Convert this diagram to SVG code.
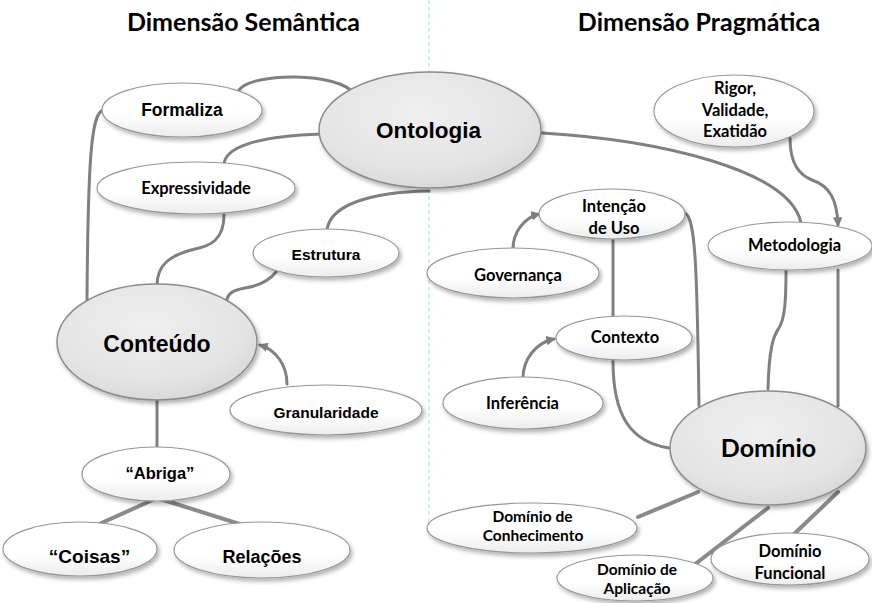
<svg xmlns="http://www.w3.org/2000/svg" width="872" height="603" viewBox="0 0 872 603">
<defs>
<linearGradient id="gSmall" x1="0" y1="0" x2="0" y2="1">
<stop offset="0" stop-color="#ffffff"/>
<stop offset="0.6" stop-color="#ffffff"/>
<stop offset="1" stop-color="#ececec"/>
</linearGradient>
<radialGradient id="gBig" cx="0.45" cy="0.35" r="0.7">
<stop offset="0" stop-color="#efefef"/>
<stop offset="0.7" stop-color="#e4e4e4"/>
<stop offset="1" stop-color="#d6d6d6"/>
</radialGradient>
<filter id="shadow" x="-10%" y="-10%" width="125%" height="135%">
<feDropShadow dx="2" dy="3" stdDeviation="2" flood-color="#000" flood-opacity="0.3"/>
</filter>
<marker id="arrow" viewBox="0 0 10 10" refX="8" refY="5" markerWidth="3.2" markerHeight="3.2" orient="auto">
<path d="M0,0 L10,5 L0,10 Z" fill="#7f7f7f"/>
</marker>
</defs>
<style>
.title{font-family:"Lato","Liberation Sans",sans-serif;font-weight:bold;font-size:25px;fill:#000;text-anchor:middle}
.small{fill:url(#gSmall);stroke:#979797;stroke-width:1.2;filter:url(#shadow)}
.big{fill:url(#gBig);stroke:#8c8c8c;stroke-width:1.5;filter:url(#shadow)}
.a{font-family:"Liberation Sans",Arial,sans-serif;font-weight:bold;fill:#000;text-anchor:middle}
.c{font-family:"Lato","Liberation Sans",sans-serif;font-weight:bold;fill:#000;text-anchor:middle;font-size:16.5px}
.c2{font-family:"Lato","Liberation Sans",sans-serif;font-weight:bold;fill:#000;text-anchor:middle;font-size:15.5px}
.cbig{font-family:"Lato","Liberation Sans",sans-serif;font-weight:bold;fill:#000;text-anchor:middle;font-size:25px}
.conn path{fill:none;stroke:#808080;stroke-width:3;stroke-linecap:round}
.conn path.thick{stroke:#8a8a8a;stroke-width:4}
.arr{marker-end:url(#arrow)}
.divider{stroke:#a9dbe6;stroke-width:1;stroke-dasharray:4,3}
</style>
<rect width="872" height="603" fill="#ffffff"/>
<line class="divider" x1="429" y1="0" x2="429" y2="535"/>
<text class="title" x="243.5" y="31">Dimensão Semântica</text>
<text class="title" x="699" y="31">Dimensão Pragmática</text>

<g id="connectors" class="conn">
<path d="M239,90 C252,72 340,72 354,94"/>
<path d="M103,110 C92,114 88,150 87,300"/>
<path d="M322,134 C255,136 224,148 224,165"/>
<path d="M224,215 C224,240 210,246 195,249 C170,255 157,265 157,285"/>
<path d="M429,191 C370,192 330,205 327,230"/>
<path d="M276,272 C268,282 258,286 245,288 C235,290 229,292 227,299"/>
<path class="arr" d="M287,384 C287,365 276,350 260,345"/>
<path d="M157,400 L157,447"/>
<path class="thick" d="M157,498 L86,530"/>
<path class="thick" d="M157,498 L259,530"/>
<path d="M542,133 C660,140 790,170 801,223"/>
<path class="arr" d="M790,138 C790,165 800,175 812,180 C830,186 837,200 838,225"/>
<path class="arr" d="M513,249 C513,232 524,218 539,214"/>
<path d="M613,239 L613,317"/>
<path d="M685,213 C695,218 697,260 699,406"/>
<path d="M786,271 C786,300 785,318 779,328 C773,336 769,350 768,389"/>
<path d="M838,270 L838,406"/>
<path class="arr" d="M523,378 C523,360 535,343 554,339"/>
<path d="M613,361 C613,415 630,442 669,448"/>
<path class="thick" d="M698,492 L638,517"/>
<path class="thick" d="M768,508 L694,565"/>
<path class="thick" d="M838,492 L791,537"/>
</g>

<g id="ontologia"><ellipse class="big" cx="430" cy="130" rx="111" ry="58"/><text class="a" x="428.5" y="138" font-size="22.5">Ontologia</text></g>
<g id="formaliza"><ellipse class="small" cx="182" cy="110" rx="80" ry="27"/><text class="a" x="182" y="116" font-size="17.5">Formaliza</text></g>
<g id="expressividade"><ellipse class="small" cx="196" cy="188" rx="99" ry="26"/><text class="c" x="196" y="194">Expressividade</text></g>
<g id="estrutura"><ellipse class="small" cx="326" cy="253" rx="73" ry="24"/><text class="a" x="326" y="260" font-size="15.5">Estrutura</text></g>
<g id="conteudo"><ellipse class="big" cx="157" cy="342" rx="100" ry="58"/><text class="a" x="157" y="352" font-size="23">Conteúdo</text></g>
<g id="granularidade"><ellipse class="small" cx="326" cy="410" rx="96" ry="25"/><text class="a" x="326" y="418" font-size="15.5">Granularidade</text></g>
<g id="abriga"><ellipse class="small" cx="156" cy="474" rx="74" ry="27"/><text class="a" x="160" y="479" font-size="16.5">“Abriga”</text></g>
<g id="coisas"><ellipse class="small" cx="80" cy="549" rx="77" ry="27"/><text class="a" x="89.5" y="563" font-size="19">“Coisas”</text></g>
<g id="relacoes"><ellipse class="small" cx="262" cy="550" rx="88" ry="28"/><text class="a" x="262" y="563" font-size="18">Relações</text></g>

<g id="rigor"><ellipse class="small" cx="734" cy="111" rx="80" ry="36"/><text class="c" x="735" y="94">Rigor,</text><text class="c" x="735" y="116">Validade,</text><text class="c" x="735" y="137">Exatidão</text></g>
<g id="intencao"><ellipse class="small" cx="612" cy="214" rx="73" ry="25"/><text class="c" x="614" y="212">Intenção</text><text class="c" x="614" y="234">de Uso</text></g>
<g id="metodologia"><ellipse class="small" cx="790" cy="246" rx="82" ry="24"/><text class="c" x="794.5" y="251">Metodologia</text></g>
<g id="governanca"><ellipse class="small" cx="513" cy="273" rx="86" ry="25"/><text class="c" x="518" y="281">Governança</text></g>
<g id="contexto"><ellipse class="small" cx="624" cy="338" rx="68" ry="22"/><text class="c" x="625" y="343">Contexto</text></g>
<g id="inferencia"><ellipse class="small" cx="523" cy="403" rx="80" ry="26"/><text class="c" x="522.5" y="409">Inferência</text></g>
<g id="dominio"><ellipse class="big" cx="768" cy="448" rx="98" ry="57"/><text class="cbig" x="768.5" y="457">Domínio</text></g>
<g id="dominio-conhecimento"><ellipse class="small" cx="532" cy="528" rx="105" ry="25"/><text class="c2" x="532.5" y="522">Domínio de</text><text class="c2" x="533" y="541">Conhecimento</text></g>
<g id="dominio-aplicacao"><ellipse class="small" cx="635" cy="578" rx="78" ry="23"/><text class="c2" x="637" y="575">Domínio de</text><text class="c2" x="637" y="594">Aplicação</text></g>
<g id="dominio-funcional"><ellipse class="small" cx="790" cy="559" rx="79" ry="26"/><text class="c" x="790" y="557">Domínio</text><text class="c" x="790" y="579">Funcional</text></g>
</svg>
